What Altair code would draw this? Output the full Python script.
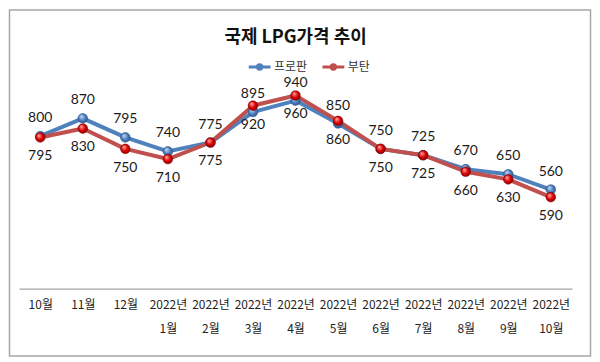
import altair as alt
import pandas as pd

months = ["10월", "11월", "12월", "2022년 1월", "2022년 2월", "2022년 3월", "2022년 4월",
          "2022년 5월", "2022년 6월", "2022년 7월", "2022년 8월", "2022년 9월", "2022년 10월"]
propane = [800, 870, 795, 740, 775, 895, 940, 850, 750, 725, 670, 650, 590]
butane = [795, 830, 750, 710, 775, 920, 960, 860, 750, 725, 660, 630, 560]
propane_labels = ["800", "870", "795", "740", "775", "895", "940", "850", "750", "725", "670", "650", "560"]
butane_labels = ["795", "830", "750", "710", "775", "920", "960", "860", "750", "725", "660", "630", "590"]
series = ["프로판", "부탄"]
colors = ["#4F81BD", "#C0504D"]

rows = []
for i, m in enumerate(months):
    rows.append({"month": m, "series": series[0], "value": propane[i], "label": propane_labels[i]})
for i, m in enumerate(months):
    rows.append({"month": m, "series": series[1], "value": butane[i], "label": butane_labels[i]})
df = pd.DataFrame(rows)

KR = "Noto Sans CJK KR"
NUM = "Lato"

x_enc = alt.X("month:N", sort=months,
              scale=alt.Scale(type="point", padding=0.5),
              axis=alt.Axis(title=None, labelAngle=0, ticks=False, grid=False,
                            domainColor="#a6a6a6", domainWidth=1.2,
                            labelFont=KR, labelFontSize=12, labelColor="#222222",
                            labelPadding=11, labelLineHeight=24,
                            labelExpr="split(datum.value, ' ')"))
y_enc = alt.Y("value:Q", scale=alt.Scale(domain=[200, 1000], nice=False, zero=False), axis=None)

legend_path = ("M-1,0L1,0 "
               "M-0.2,0A0.2,0.2 0 1,1 0.2,0A0.2,0.2 0 1,1 -0.2,0 "
               "M-0.08,0A0.08,0.08 0 1,1 0.08,0A0.08,0.08 0 1,1 -0.08,0")
color_enc = alt.Color("series:N",
                      scale=alt.Scale(domain=series, range=colors),
                      legend=alt.Legend(orient="none", legendX=229, legendY=-31,
                                        direction="horizontal", title=None,
                                        symbolType=legend_path, symbolSize=480,
                                        symbolStrokeWidth=3, labelFont=KR,
                                        labelFontSize=12, labelColor="#333333",
                                        labelOffset=2, columnPadding=8))

base = alt.Chart(df).encode(x=x_enc, y=y_enc)

def line(s):
    return base.transform_filter(alt.datum.series == s).mark_line(
        strokeWidth=4, strokeCap="round", strokeJoin="round").encode(color=color_enc)

def pts(s, c_light, c_mid, c_dark):
    grad = alt.Gradient(gradient="radial", x1=0.35, y1=0.3, r1=0.05, x2=0.5, y2=0.5, r2=0.6,
                        stops=[alt.GradientStop(color=c_light, offset=0),
                               alt.GradientStop(color=c_mid, offset=0.5),
                               alt.GradientStop(color=c_dark, offset=1)])
    return base.transform_filter(alt.datum.series == s).mark_point(
        shape="circle", filled=True, size=95, fill=grad, stroke=c_dark, strokeWidth=0.5, opacity=1)

blue_line = line(series[0])
red_line = line(series[1])
blue_pts = pts(series[0], "#bcd3ee", "#4a7fc1", "#2a4f80")
red_pts = pts(series[1], "#ff9a9a", "#dd0000", "#7a0000")

top_text = base.transform_filter(alt.datum.series == series[0]).mark_text(
    font=NUM, fontSize=14, dy=-18, color="#1a1a1a").encode(text="label:N")
bot_text = base.transform_filter(alt.datum.series == series[1]).mark_text(
    font=NUM, fontSize=14, dy=19, color="#1a1a1a").encode(text="label:N")

frame = alt.Chart(pd.DataFrame({"a": [0]})).mark_rect(
    fillOpacity=0, stroke="#a6a6a6", strokeWidth=1.5).encode(
    x=alt.value(-9.5), x2=alt.value(573.5), y=alt.value(-75.5), y2=alt.value(271.5))

chart = alt.layer(frame, blue_line, red_line, blue_pts, red_pts, top_text, bot_text).properties(
    width=555, height=204,
    autosize="none",
    padding={"left": 11, "top": 77, "right": 20, "bottom": 69},
    title=alt.TitleParams("국제 LPG가격 추이", anchor="middle", font=KR, fontSize=18,
                          fontWeight="bold", color="#111111", offset=0, dy=38),
).configure_view(stroke=None)

chart.save("out.html", embed_options={"renderer": "svg", "actions": False})
